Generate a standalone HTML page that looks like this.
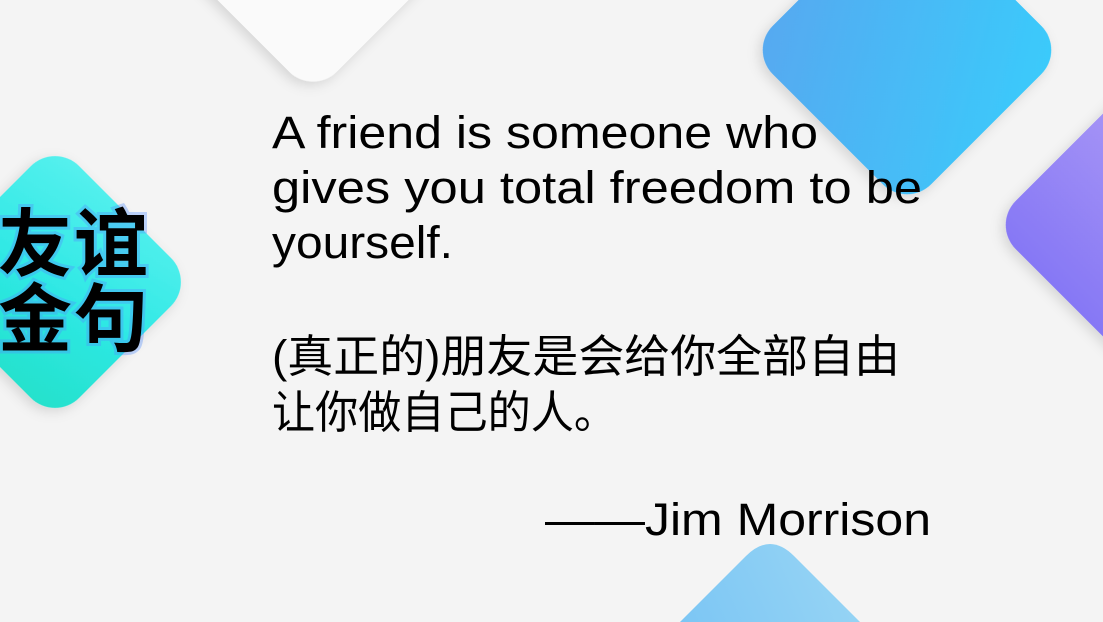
<!DOCTYPE html>
<html><head><meta charset="utf-8"><style>
html,body{margin:0;padding:0;width:1103px;height:622px;overflow:hidden;}
body{background:#f4f4f4;font-family:"Liberation Sans","Noto Sans CJK SC",sans-serif;}
#stage{position:relative;width:1103px;height:622px;overflow:hidden;background:#f4f4f4;}
svg{position:absolute;left:0;top:0;}
</style></head><body>
<div id="stage">
<svg width="1103" height="622" viewBox="0 0 1103 622">
<defs>
<filter id="sh" x="-20%" y="-20%" width="140%" height="140%"><feDropShadow dx="0" dy="5" stdDeviation="6" flood-color="#000" flood-opacity="0.13"/></filter>
<linearGradient id="gBlue" gradientUnits="userSpaceOnUse" x1="760" y1="170" x2="1050" y2="0"><stop offset="0" stop-color="#5aa4ef"/><stop offset="1" stop-color="#3acbfb"/></linearGradient>
<linearGradient id="gPurple" gradientUnits="userSpaceOnUse" x1="0" y1="100" x2="0" y2="340"><stop offset="0" stop-color="#b3a0f6"/><stop offset="1" stop-color="#8577f5"/></linearGradient>
<linearGradient id="gLight" gradientUnits="userSpaceOnUse" x1="680" y1="622" x2="860" y2="540"><stop offset="0" stop-color="#7cc6f4"/><stop offset="1" stop-color="#9ad6f4"/></linearGradient>
<linearGradient id="gTeal" gradientUnits="userSpaceOnUse" x1="0" y1="150" x2="60" y2="415"><stop offset="0" stop-color="#5ef2f0"/><stop offset="0.55" stop-color="#2ee8e4"/><stop offset="1" stop-color="#23e0c8"/></linearGradient>
</defs>
<rect x="203" y="-170" width="220" height="220" rx="34" fill="#fafafa" filter="url(#sh)" transform="rotate(45 313 -60)"/>
<rect x="795" y="-62" width="224" height="224" rx="34" fill="url(#gBlue)" filter="url(#sh)" transform="rotate(45 907 50)"/>
<rect x="1038" y="113" width="224" height="224" rx="34" fill="url(#gPurple)" filter="url(#sh)" transform="rotate(45 1150 225)"/>
<path d="M680,622 L746,556 Q770,532 794,556 L860,622 Z" fill="url(#gLight)"/>
<rect x="-44" y="183" width="198" height="198" rx="34" fill="url(#gTeal)" filter="url(#sh)" transform="rotate(45 55 282)"/>
<g font-family="'Noto Sans CJK SC',sans-serif" font-weight="bold" font-size="74" fill="#000" style="paint-order:stroke" stroke="rgba(80,140,255,0.35)" stroke-width="6">
<text x="-2" y="270" textLength="150">友谊</text>
<text x="-2" y="345" textLength="150">金句</text>
</g>
<g font-size="45" fill="#000" font-family="'Liberation Sans','Noto Sans CJK SC',sans-serif">
<text x="272" y="148" textLength="546" lengthAdjust="spacingAndGlyphs">A friend is someone who</text>
<text x="272" y="203" textLength="650" lengthAdjust="spacingAndGlyphs">gives you total freedom to be</text>
<text x="272" y="258" textLength="181" lengthAdjust="spacingAndGlyphs">yourself.</text>
<text x="272" y="372" textLength="628" lengthAdjust="spacingAndGlyphs">(真正的)朋友是会给你全部自由</text>
<text x="272" y="428" textLength="345" lengthAdjust="spacingAndGlyphs">让你做自己的人。</text>
<text x="545" y="535" textLength="386" lengthAdjust="spacingAndGlyphs">——Jim Morrison</text>
</g>
</svg>
</div>
</body></html>
